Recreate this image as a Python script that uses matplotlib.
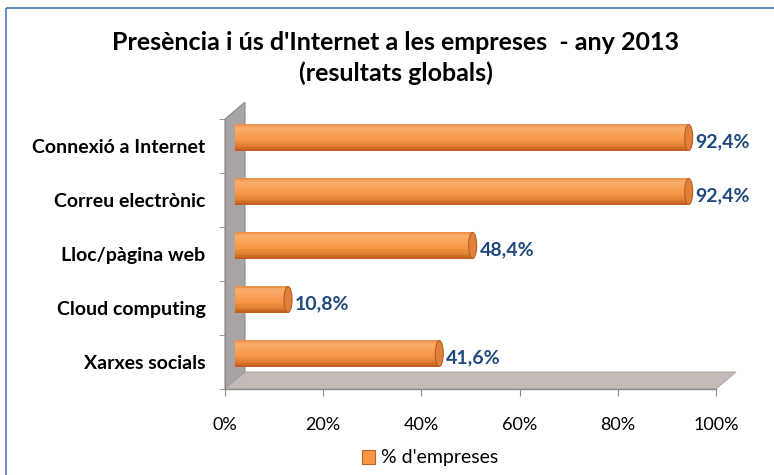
import numpy as np
import matplotlib.pyplot as plt
from matplotlib.patches import Polygon, Ellipse, Rectangle, Patch
from matplotlib.colors import to_rgb

# data
categories = ['Connexió a Internet', 'Correu electrònic', 'Lloc/pàgina web',
              'Cloud computing', 'Xarxes socials']
values = [92.4, 92.4, 48.4, 10.8, 41.6]
value_labels = ['92,4%', '92,4%', '48,4%', '10,8%', '41,6%']
xticks = [0, 20, 40, 60, 80, 100]
xticklabels = ['0%', '20%', '40%', '60%', '80%', '100%']
title_lines = ["Presència i ús d'Internet a les empreses  - any 2013", "(resultats globals)"]
legend_label = "% d'empreses"

plt.rcParams['font.family'] = ['Lato', 'DejaVu Sans']

W, H = 774, 475
fig = plt.figure(figsize=(W / 100, H / 100), dpi=100)


def px_rect(x0, y0, x1, y1):
    return [x0 / W, 1 - y1 / H, (x1 - x0) / W, (y1 - y0) / H]


# front plane of the fake 3d box, and the depth offset of the back plane
fx0, fy0, fx1, fy1 = 225, 119, 716, 389
dx, dy = 20, -17

# background: frame, wall, floor
bg = fig.add_axes([0, 0, 1, 1], zorder=0)
bg.set_xlim(0, W)
bg.set_ylim(H, 0)
bg.axis('off')
bg.add_patch(Rectangle((6, 8), W + 10, H + 10, fill=False, ec='#5a7fb6', lw=1.3))
wall = Polygon([(fx0, fy0), (fx0 + dx, fy0 + dy), (fx0 + dx, fy1 + dy), (fx0, fy1)],
               closed=True, fc='#a8a4a4', ec='#8e8a8a', lw=0.8)
floor = Polygon([(fx0, fy1), (fx0 + dx, fy1 + dy), (fx1 + dx, fy1 + dy), (fx1, fy1)],
                closed=True, fc='#c4bab7', ec='#a9a09e', lw=0.6)
bg.add_patch(wall)
bg.add_patch(floor)
bg.plot([fx0, fx1], [fy1, fy1], color='#8c8c8c', lw=1.0)
bg.plot([fx0, fx0], [fy0, fy1], color='#8c8c8c', lw=0.8)

# bars sit halfway into the depth
axb = fig.add_axes(px_rect(fx0 + dx / 2, fy0 + dy / 2, fx1 + dx / 2, fy1 + dy / 2), zorder=2)
axb.patch.set_alpha(0)
axb.set_xlim(0, 100)
axb.set_ylim(len(categories) - 0.5, -0.5)
axb.axis('off')

y = np.arange(len(categories))
hb = 0.48
cap_w = 8 / ((fx1 - fx0) / 100)   # 8 px wide caps in data units

# cylinder shading, top to bottom of the bar
stops = [0.0, 0.12, 0.3, 0.6, 0.85, 1.0]
stop_cols = ['#e8873c', '#fab070', '#f9a45e', '#f79646', '#dc7930', '#b9581a']
n = 16
t = (np.arange(n) + 0.5) / n
rgb = np.array([to_rgb(c) for c in stop_cols])
shade = np.column_stack([np.interp(t, stops, rgb[:, k]) for k in range(3)])

for yi in y:
    axb.add_patch(Ellipse((0, yi), cap_w, hb, fc='#e48232', ec='none', zorder=1))
for k in range(n):
    axb.barh(y - hb / 2 + (k + 0.5) * hb / n, values, height=hb / n * 1.05,
             color=shade[k], lw=0, zorder=2)
for yi, v, lab in zip(y, values, value_labels):
    axb.add_patch(Ellipse((v, yi), cap_w, hb, fc='#e0803a', ec='#b95f1d', lw=0.8, zorder=5))
    axb.annotate(lab, (v, yi), xytext=(7, -4), textcoords='offset pixels',
                 ha='left', va='center', fontsize=14, fontweight='bold', color='#1f497d')

# front axes carry the ticks and labels
ax = fig.add_axes(px_rect(fx0, fy0, fx1, fy1), zorder=1)
ax.patch.set_alpha(0)
ax.set_xlim(0, 100)
ax.set_ylim(len(categories) - 0.5, -0.5)
for s in ax.spines.values():
    s.set_visible(False)
ax.set_xticks(xticks)
ax.set_xticklabels(xticklabels, fontsize=13)
ax.set_yticks(y)
ax.set_yticklabels(categories, fontsize=14, fontweight='bold')
ax.set_yticks(np.arange(len(categories) + 1) - 0.5, minor=True)
ax.tick_params(axis='y', which='major', length=0, pad=14)
ax.tick_params(axis='y', which='minor', length=4, color='#8c8c8c')
ax.tick_params(axis='x', length=5, color='#8c8c8c', pad=15)

# title, one line at a time to control the spacing
for line, ty in zip(title_lines, [42, 73]):
    fig.text(396 / W, 1 - ty / H, line, ha='center', va='center',
             fontsize=18, fontweight='bold')

fig.legend(handles=[Patch(fc='#f79646', ec='#c0601a', lw=0.8)], labels=[legend_label],
           loc='center', bbox_to_anchor=(430 / W, 1 - 458 / H), frameon=False,
           fontsize=14, handlelength=0.7, handleheight=0.7, handletextpad=0.3)

fig.savefig('out.png', dpi=100)
